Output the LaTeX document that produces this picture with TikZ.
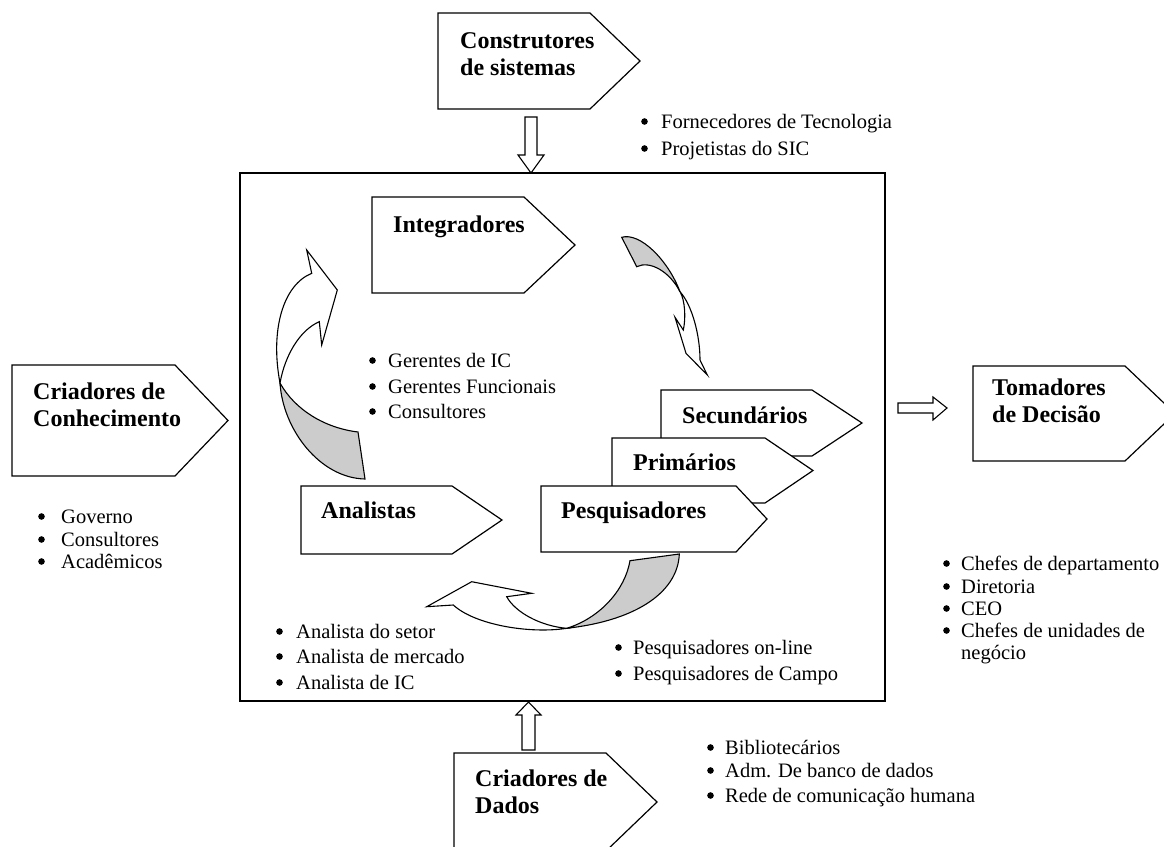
\documentclass[tikz,border=0pt]{standalone}
\usepackage{fontspec}
\setmainfont{Liberation Serif}

% one line of a bulleted list: name, bullet x, text x, baseline y, text
\newcommand{\listline}[5]{%
  \node[dot] (#1b) at ({#2+3.5},{#4-6.5}) {};
  \node[itemtext] (#1) at (#3,#4) {#5};}

% pentagon label box: left x, top y, shoulder x, tip x, bottom y
\newcommand{\tagbox}[5]{%
  \draw[boxline] (#1,#2) -- (#3,#2) -- (#4,{(#2+#5)/2}) -- (#3,#5) -- (#1,#5) -- cycle;}

\begin{document}
\begin{tikzpicture}[x=1pt,y=-1pt,
  boxline/.style={draw=black,fill=white,line width=1.2pt,line join=miter},
  blockarrow/.style={draw=black,fill=white,line width=1.1pt,line join=miter},
  ribbon/.style={draw=black,fill=white,line width=1.1pt,line join=miter},
  ribbonback/.style={draw=black,fill=black!20,line width=1.1pt,line join=miter},
  title/.style={font=\fontsize{24}{27}\selectfont\bfseries,anchor=base west,inner sep=0pt},
  itemtext/.style={font=\fontsize{20.5}{24}\selectfont,anchor=base west,inner sep=0pt},
  dot/.style={circle,fill=black,inner sep=0pt,minimum size=6.6pt}]

\useasboundingbox (0,0) rectangle (1164,846);
\fill[white] (0,0) rectangle (1164,846);
\clip (0,0) rectangle (1164,846);

% ---------- central frame ----------
\draw[line width=1.2pt] (240,173) rectangle (885,701);

% ---------- Construtores de sistemas ----------
\tagbox{438}{13}{590}{640}{109}
\node[title] (constr1) at (460,48) {Construtores};
\node[title] (constr2) at (460,75) {de sistemas};
\draw[blockarrow] (525,117) -- (537,117) -- (537,155) -- (544,155) -- (531,173)
  -- (518,155) -- (525,155) -- cycle;
\listline{fornA}{641}{661}{128}{Fornecedores de Tecnologia}
\listline{fornB}{641}{661}{155}{Projetistas do SIC}

% ---------- Integradores ----------
\tagbox{372}{197}{524}{575}{293}
\node[title] (integ) at (393,232) {Integradores};
\listline{gerA}{369}{388}{367}{Gerentes de IC}
\listline{gerB}{369}{388}{393}{Gerentes Funcionais}
\listline{gerC}{369}{388}{418}{Consultores}

% ---------- Criadores de Conhecimento ----------
\tagbox{12}{365}{175}{228}{476}
\node[title] (conh1) at (33,399) {Criadores de};
\node[title] (conh2) at (33,426) {Conhecimento};
\listline{govA}{38}{61}{523}{Governo}
\listline{govB}{38}{61}{546}{Consultores}
\listline{govC}{38}{61}{568}{Acadêmicos}

% ---------- Tomadores de Decisão ----------
\draw[blockarrow] (898,403) -- (933,403) -- (933,397) -- (947,408) -- (933,420)
  -- (933,413) -- (898,413) -- cycle;
\tagbox{973}{366}{1125}{1175}{461}
\node[title] (tom1) at (992,395) {Tomadores};
\node[title] (tom2) at (992,422) {de Decisão};
\listline{tomA}{943}{961}{570}{Chefes de departamento}
\listline{tomB}{943}{961}{593}{Diretoria}
\listline{tomC}{943}{961}{615}{CEO}
\listline{tomD}{943}{961}{637}{Chefes de unidades de}
\node[itemtext] (tomE) at (961,659) {negócio};

% ---------- stacked research boxes ----------
\tagbox{661}{390}{812}{862}{456}
\node[title] (sec) at (682,423) {Secundários};
\tagbox{612}{438}{765}{813}{503}
\node[title] (prim) at (633,470) {Primários};
\tagbox{541}{486}{736}{767}{552}
\node[title] (pesq) at (561,518) {Pesquisadores};
\listline{pesA}{615}{633}{654}{Pesquisadores on-line}
\listline{pesB}{615}{633}{680}{Pesquisadores de Campo}

% ---------- Analistas ----------
\tagbox{301}{486}{452}{502}{554}
\node[title] (anal) at (321,518) {Analistas};
\listline{anaA}{276}{296}{638}{Analista do setor}
\listline{anaB}{276}{296}{663}{Analista de mercado}
\listline{anaC}{276}{296}{689}{Analista de IC}

% ---------- Criadores de Dados ----------
\draw[blockarrow] (522,750) -- (535,750) -- (535,715) -- (541,715) -- (528.5,702)
  -- (516,715) -- (522,715) -- cycle;
\tagbox{454}{753}{606}{657}{851}
\node[title] (dados1) at (475,786) {Criadores de};
\node[title] (dados2) at (475,813) {Dados};
\listline{bibA}{707}{725}{754}{Bibliotecários}
\listline{bibB}{707}{725}{777}{Adm. De banco de dados}
\listline{bibC}{707}{725}{802}{Rede de comunicação humana}

% ---------- curved arrow: Analistas -> Integradores ----------
\draw[ribbonback] (280,383) .. controls (295,410) and (325,428) .. (358,432)
  -- (365,479) .. controls (320,478) and (283,430) .. cycle;
\draw[ribbon] (280,383) .. controls (270,330) and (283,285) .. (311.7,273.3)
  -- (306.7,250) -- (337.3,290) -- (321.7,345) -- (319.3,321.7)
  .. controls (300,330) and (285,355) .. cycle;

% ---------- curved arrow: Integradores -> research boxes ----------
\draw[ribbonback] (621.7,237.3) .. controls (640,232) and (668,260) .. (680,291.7)
  .. controls (670,272) and (650,260) .. (636.7,266.7) -- cycle;
\draw[ribbon] (680,291.7) .. controls (685,300) and (686,318) .. (683.3,330)
  -- (675,317.3) -- (686,353.3) -- (707.3,375) -- (700,360)
  .. controls (700,335) and (692,305) .. cycle;

% ---------- curved arrow: Pesquisadores -> Analistas ----------
\draw[ribbonback] (630,560.7) -- (679.3,554)
  .. controls (678,590) and (640,620) .. (566.7,628.3)
  .. controls (600,618) and (625,590) .. cycle;
\draw[ribbon] (566.7,628.3) .. controls (530,634) and (475,625) .. (453.3,605)
  -- (426.7,606.7) -- (471.7,581.7) -- (531.7,593.3) -- (506.7,596.7)
  .. controls (515,612) and (540,626) .. cycle;

\end{tikzpicture}
\end{document}
